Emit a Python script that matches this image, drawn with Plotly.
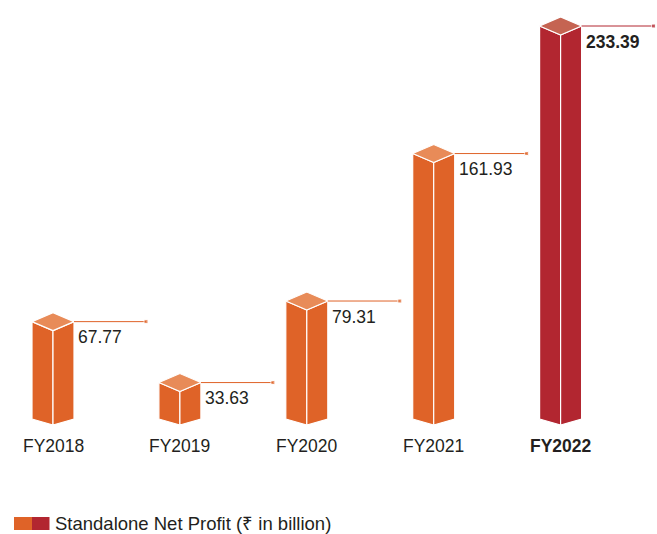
import plotly.graph_objects as go

# ---- data ----
categories = ["FY2018", "FY2019", "FY2020", "FY2021", "FY2022"]
values = [67.77, 33.63, 79.31, 161.93, 233.39]
highlight = [False, False, False, False, True]
legend_label = "Standalone Net Profit (₹ in billion)"

# ---- style ----
ORANGE = "#DF6328"
ORANGE_TOP = "#E88B58"
RED = "#B22630"
RED_TOP = "#C56452"
TEXT = "#231F20"
FONT = "Liberation Sans, Arial, sans-serif"

W, H = 657, 534
PLOT_BOTTOM_PX = 425
BASE = 14.9          # value at the baseline of the stylised chart
PX_PER_UNIT = 1.785  # vertical pixels per value unit
X_PX_PER_CAT = 126.9
X_FIRST_PX = 53

yr = [BASE, BASE + PLOT_BOTTOM_PX / PX_PER_UNIT]
xr = [-X_FIRST_PX / X_PX_PER_CAT, (W - X_FIRST_PX) / X_PX_PER_CAT]

def py(px):
    return px / PX_PER_UNIT

def pxx(px):
    return px / X_PX_PER_CAT

hw = pxx(21)
dyt = py(9)
dyb = py(6)
lead = pxx(72)

fig = go.Figure()

for i, (cat, v, hl) in enumerate(zip(categories, values, highlight)):
    face = RED if hl else ORANGE
    top = RED_TOP if hl else ORANGE_TOP
    c = i
    # left face
    fig.add_trace(go.Scatter(
        x=[c - hw, c, c, c - hw, c - hw],
        y=[BASE + dyb, BASE, v, v + dyt, BASE + dyb],
        fill="toself", fillcolor=face, mode="lines",
        line=dict(color="white", width=1.2), hoverinfo="skip", showlegend=False))
    # right face
    fig.add_trace(go.Scatter(
        x=[c, c + hw, c + hw, c, c],
        y=[BASE, BASE + dyb, v + dyt, v, BASE],
        fill="toself", fillcolor=face, mode="lines",
        line=dict(color="white", width=1.2), hoverinfo="skip", showlegend=False))
    # top face
    fig.add_trace(go.Scatter(
        x=[c, c - hw, c, c + hw, c],
        y=[v, v + dyt, v + 2 * dyt, v + dyt, v],
        fill="toself", fillcolor=top, mode="lines",
        line=dict(color="white", width=1.2), hoverinfo="skip", showlegend=False))
    # leader line
    fig.add_trace(go.Scatter(
        x=[c + hw, c + hw + lead], y=[v + dyt, v + dyt],
        mode="lines+markers",
        line=dict(color=face, width=1),
        marker=dict(size=[0, 4], color=face, symbol="square"),
        hoverinfo="skip", showlegend=False))
    # value label
    txt = f"{v:.2f}"
    fig.add_annotation(
        x=c + hw, y=v + dyt, xref="x", yref="y",
        text=f"<b>{txt}</b>" if hl else txt,
        showarrow=False, xanchor="left", yanchor="middle",
        xshift=2, yshift=-15.5,
        font=dict(family=FONT, size=17.5, color=TEXT))
    # category label
    fig.add_annotation(
        x=c, y=BASE, xref="x", yref="y",
        text=f"<b>{cat}</b>" if hl else cat,
        showarrow=False, xanchor="center", yanchor="middle",
        yshift=-21,
        font=dict(family=FONT, size=17.5, color=TEXT))

# baseline
fig.add_shape(type="line", xref="paper", yref="y",
              x0=10 / W, x1=652 / W, y0=BASE - py(1), y1=BASE - py(1),
              line=dict(color="#9A9A9A", width=1.5), layer="below")

# legend (two-tone swatch + text)
def paper_y(px):
    return (PLOT_BOTTOM_PX - px) / PLOT_BOTTOM_PX

fig.add_shape(type="rect", xref="paper", yref="paper",
              x0=14 / W, x1=32 / W, y0=paper_y(530), y1=paper_y(517),
              fillcolor=ORANGE, line=dict(width=0))
fig.add_shape(type="rect", xref="paper", yref="paper",
              x0=32 / W, x1=49.5 / W, y0=paper_y(530), y1=paper_y(517),
              fillcolor=RED, line=dict(width=0))
fig.add_annotation(x=53 / W, y=paper_y(523.5), xref="paper", yref="paper",
                   text=legend_label, showarrow=False,
                   xanchor="left", yanchor="middle",
                   font=dict(family=FONT, size=18.5, color=TEXT))

fig.update_layout(
    width=W, height=H,
    margin=dict(l=0, r=0, t=0, b=H - PLOT_BOTTOM_PX, pad=0),
    paper_bgcolor="white", plot_bgcolor="white",
    xaxis=dict(range=xr, visible=False, fixedrange=True),
    yaxis=dict(range=yr, visible=False, fixedrange=True),
    showlegend=False,
)

fig.write_html("out.html",
               config={"displayModeBar": False, "staticPlot": True},
               post_script="document.body.style.margin='0';document.body.style.padding='0';")
